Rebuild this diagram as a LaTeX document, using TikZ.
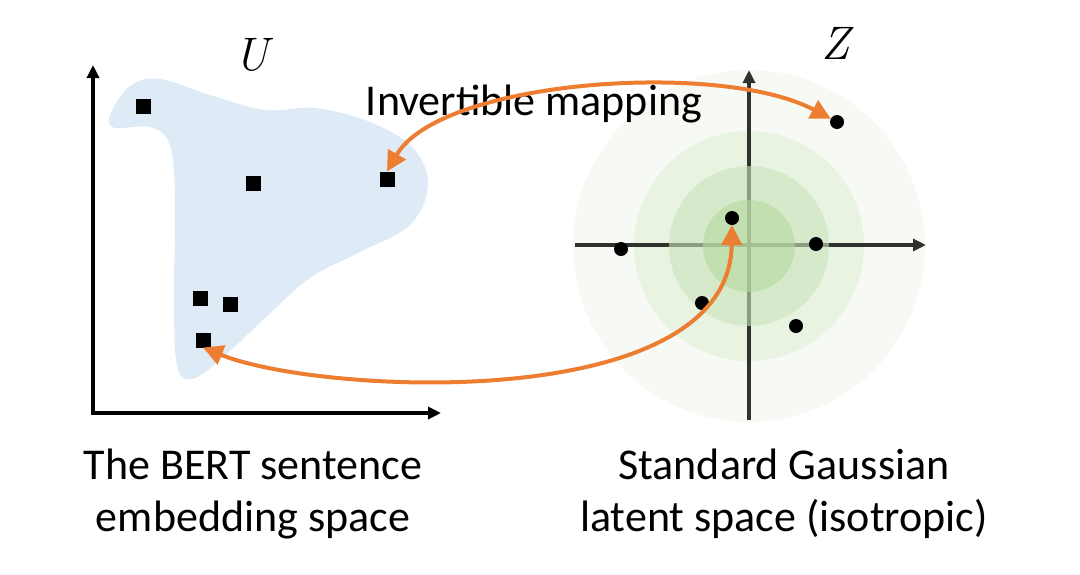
\documentclass[tikz,border=0pt]{standalone}
\usepackage{fontspec}
\newfontfamily\calibri{Carlito}
\usetikzlibrary{arrows.meta}
\definecolor{myorange}{HTML}{ED7D31}
\definecolor{blobblue}{HTML}{DEEAF6}
\definecolor{gA}{RGB}{247,250,244}
\definecolor{gB}{RGB}{232,243,226}
\definecolor{gC}{RGB}{202,228,188}
\definecolor{gD}{RGB}{181,216,158}
\definecolor{axgray}{RGB}{48,50,46}
\begin{document}
\begin{tikzpicture}[x=1pt,y=-1pt,
  sq/.style={fill=black, minimum size=15pt, inner sep=0pt, outer sep=0pt},
  dot/.style={circle, fill=black, minimum size=14pt, inner sep=0pt, outer sep=0pt},
  map/.style={draw=myorange, line width=4pt, {Triangle[length=20pt,width=20pt]}-{Triangle[length=20pt,width=20pt]}},
  lbl/.style={font=\calibri\fontsize{44}{52}\selectfont, align=center, inner sep=0pt},
  mathlbl/.style={font=\fontsize{47}{47}\selectfont\itshape, inner sep=0pt},
  laxis/.style={draw=black, line width=3.5pt, -{Triangle[length=13pt,width=12pt]}},
  raxis/.style={draw=axgray, line width=4pt, -{Triangle[length=13pt,width=12pt]}}
  ]
\useasboundingbox (0,0) rectangle (1080,574);

% blob
\fill[blobblue] plot[smooth cycle, tension=0.6] coordinates {
  (110,115) (130,86) (160,79) (210,95) (265,110) (315,108) (370,122)
  (413,148) (428,185) (410,225) (360,252) (310,278) (265,318) (220,360)
  (192,379) (177,366) (174,300) (175,200) (170,145) (150,127) (115,128)};

% left axes
\coordinate (O1) at (93,413);
\coordinate (Y1) at (93,65);
\coordinate (X1) at (441,413);
\draw[laxis] ([yshift=1.75pt]O1) -- (Y1);
\draw[laxis] ([xshift=-1.75pt]O1) -- (X1);

% gaussian circles
\coordinate (C) at (749,246);
\fill[gA] (C) circle[radius=176];
\fill[gB] (C) circle[radius=115];

% right axes
\coordinate (YB) at (749,420);
\coordinate (YT) at (749,70);
\coordinate (XL) at (575,245);
\coordinate (XR) at (926,245);
\draw[raxis] (YB) -- (YT);
\draw[raxis] (XL) -- (XR);

\fill[gC, fill opacity=0.6] (C) circle[radius=80];
\fill[gD, fill opacity=0.6] (C) circle[radius=46];

% labels
\node[mathlbl, anchor=base] (U) at (252,70) {U};
\node[mathlbl, anchor=base] (Z) at (836,59) {Z};

% points in U
\node[sq] (u1) at (143,106) {};
\node[sq] (u2) at (253,183) {};
\node[sq] (u3) at (387,179) {};
\node[sq] (u4) at (200,298) {};
\node[sq] (u5) at (230,304) {};
\node[sq] (u6) at (203,340) {};

% points in Z
\node[dot] (z1) at (837,122) {};
\node[dot] (z2) at (732,218) {};
\node[dot] (z3) at (621,249) {};
\node[dot] (z4) at (816,244) {};
\node[dot] (z5) at (702,303) {};
\node[dot] (z6) at (796,326) {};

% texts
\node[lbl, anchor=base] (inv) at (534,115) {Invertible mapping};
\node[lbl, anchor=base] (bert) at (253,531) {The BERT sentence\\embedding space};
\node[lbl, anchor=base] (gauss) at (784,531) {Standard Gaussian\\latent space (isotropic)};

% mappings
\draw[map] (u3.north) .. controls (440,80) and (720,60) .. (z1);
\draw[map] (u6.south) .. controls (320,395) and (730,415) .. (z2);
\end{tikzpicture}
\end{document}
